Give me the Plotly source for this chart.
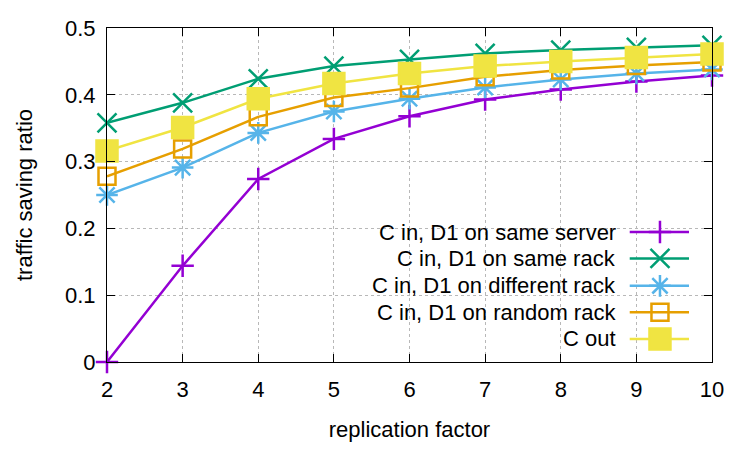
import plotly.graph_objects as go

x_vals = [2, 3, 4, 5, 6, 7, 8, 9, 10]
same_server = [0.0, 0.144, 0.274, 0.334, 0.368, 0.393, 0.408, 0.420, 0.429]
same_rack = [0.358, 0.388, 0.424, 0.443, 0.453, 0.462, 0.467, 0.471, 0.474]
diff_rack = [0.250, 0.291, 0.343, 0.375, 0.394, 0.411, 0.423, 0.432, 0.438]
random_rack = [0.278, 0.319, 0.367, 0.396, 0.410, 0.427, 0.437, 0.444, 0.449]
c_out = [0.316, 0.351, 0.394, 0.417, 0.432, 0.443, 0.450, 0.456, 0.461]

y_ticks = [0, 0.1, 0.2, 0.3, 0.4, 0.5]
y_ticklabels = ["0", "0.1", "0.2", "0.3", "0.4", "0.5"]

names = ["C in, D1 on same server", "C in, D1 on same rack", "C in, D1 on different rack",
         "C in, D1 on random rack", "C out"]
series = [same_server, same_rack, diff_rack, random_rack, c_out]
colors = ["#9400d3", "#009e73", "#56b4e9", "#e69f00", "#f0e442"]
symbols = ["cross-thin", "x-thin", "asterisk-open", "square-open", "square"]
sizes = [16, 19, 18, 17, 21]

FONT = "Liberation Sans"
FS = 22
fig = go.Figure()

for name, ys, c, s, sz in zip(names, series, colors, symbols, sizes):
    fig.add_trace(go.Scatter(
        x=x_vals, y=ys, mode="lines+markers", name=name,
        line=dict(color=c, width=2.5),
        marker=dict(symbol=s, size=sz, color=c, line=dict(color=c, width=2.5)),
        cliponaxis=False, showlegend=False))

# gnuplot-style key: text right-aligned, sample to its right
leg_y = [0.389, 0.310, 0.228, 0.149, 0.069]
for name, c, s, sz, ly in zip(names, colors, symbols, sizes, leg_y):
    fig.add_trace(go.Scatter(
        x=[0.864, 0.962], y=[ly, ly], mode="lines", xaxis="x2", yaxis="y2",
        line=dict(color=c, width=2.5), showlegend=False, hoverinfo="skip", cliponaxis=False))
    fig.add_trace(go.Scatter(
        x=[0.914], y=[ly], mode="markers", xaxis="x2", yaxis="y2",
        marker=dict(symbol=s, size=sz, color=c, line=dict(color=c, width=2.5)),
        showlegend=False, hoverinfo="skip", cliponaxis=False))
    fig.add_annotation(x=0.845, y=ly, xref="paper", yref="paper", text=name,
                       showarrow=False, xanchor="right", yanchor="middle",
                       font=dict(family=FONT, size=FS, color="black"))

# opaque key box hiding the grid
fig.add_shape(type="rect", xref="x domain", yref="y domain", x0=0.324, x1=0.998, y0=0.003, y1=0.43,
              fillcolor="white", line=dict(width=0), layer="below")

axis_common = dict(showline=True, linecolor="black", linewidth=1, mirror="ticks",
                   ticks="inside", ticklen=8, tickcolor="black",
                   showgrid=True, gridcolor="#b8b8b8", griddash="dot", gridwidth=1,
                   zeroline=False, tickfont=dict(family=FONT, size=FS, color="black"))

fig.update_layout(
    width=750, height=450,
    margin=dict(l=107, r=38, t=28, b=86),
    paper_bgcolor="white", plot_bgcolor="white",
    font=dict(family=FONT, size=FS, color="black"),
    xaxis=dict(range=[2, 10], tickvals=x_vals, ticklabelstandoff=8,
               title=dict(text="replication factor", standoff=20,
                          font=dict(family=FONT, size=FS)), **axis_common),
    yaxis=dict(range=[0, 0.5], tickvals=y_ticks, ticktext=y_ticklabels, ticklabelstandoff=6,
               title=dict(text="traffic saving ratio", standoff=26, font=dict(family=FONT, size=FS)),
               **axis_common),
    xaxis2=dict(overlaying="x", range=[0, 1], visible=False),
    yaxis2=dict(overlaying="y", range=[0, 1], visible=False),
)

fig.write_html("out.html")
